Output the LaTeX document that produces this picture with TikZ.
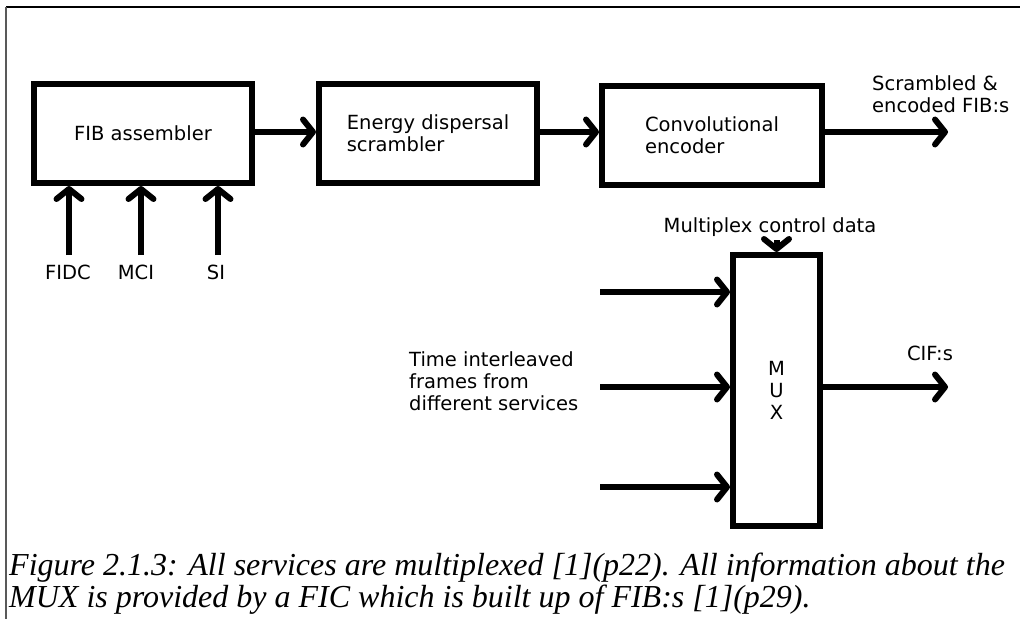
\documentclass[tikz,border=0pt]{standalone}
\usepackage{fontspec}
\usetikzlibrary{arrows.meta}
\newfontfamily\labelfont{DejaVu Sans}
\newfontfamily\captionfont{Liberation Serif}
\begin{document}
\begin{tikzpicture}[x=1pt,y=-1pt,
  txt/.style={font=\labelfont\fontsize{19.5}{22}\selectfont},
  block/.style={txt, draw, line width=6pt, inner sep=0pt, align=left},
  lbl/.style={txt, inner sep=0pt, align=left},
  arr/.style={line width=6pt, -{Straight Barb[length=10pt,width=25pt,round]}},
]
\useasboundingbox (0,0) rectangle (1020,619);
% page frame
\draw[black, line width=1.5pt] (6,7) -- (1020,7);
\draw[gray!70!black, line width=2pt] (6,7) -- (6,619);

% FIC chain
\node[block, minimum width=218pt, minimum height=99pt] (fib) at (143,133.5) {FIB assembler};
\node[block, minimum width=218pt, minimum height=99pt] (eds) at (428,133.5) {Energy dispersal\\scrambler};
\node[block, minimum width=220pt, minimum height=99pt] (conv) at (712,135) {Convolutional\\encoder};
\coordinate (chain) at (0,132);
\draw[arr] (fib.east |- chain) -- (eds.west |- chain);
\draw[arr] (eds.east |- chain) -- (conv.west |- chain);
\coordinate (fibOut) at (948,132);
\draw[arr] (conv.east |- fibOut) -- (fibOut);
% base of a multi-line node is the baseline of its last line
\node[lbl, anchor=base west] (fibLbl) at (872,112) {Scrambled \&\\encoded FIB:s};

% inputs of the FIB assembler
\coordinate (fidcIn) at (69,255);
\coordinate (mciIn) at (141,255);
\coordinate (siIn) at (218,255);
\draw[arr] (fidcIn) -- (fidcIn |- fib.south);
\draw[arr] (mciIn) -- (mciIn |- fib.south);
\draw[arr] (siIn) -- (siIn |- fib.south);
\node[lbl, anchor=base] (fidc) at (68,279) {FIDC};
\node[lbl, anchor=base] (mci) at (136,279) {MCI};
\node[lbl, anchor=base] (si) at (216,279) {SI};

% multiplexer
\node[block, minimum width=87pt, minimum height=271pt, align=center] (mux) at (776.5,390.5) {M\\U\\X};
\node[lbl, anchor=base] (mcd) at (770,232) {Multiplex control data};
\coordinate (ctl) at (776.5,240);
\draw[arr] (ctl) -- (mux.north);
\coordinate (in1) at (600,292);
\coordinate (in2) at (600,387);
\coordinate (in3) at (600,487);
\draw[arr] (in1) -- (in1 -| mux.west);
\draw[arr] (in2) -- (in2 -| mux.west);
\draw[arr] (in3) -- (in3 -| mux.west);
\node[lbl, anchor=base west] (tif) at (409,410) {Time interleaved\\frames from\\different services};
\coordinate (cifOut) at (948,387);
\draw[arr] (mux.east |- cifOut) -- (cifOut);
\node[lbl, anchor=base] (cif) at (930,360) {CIF:s};

% caption
\node[anchor=base west, inner sep=0pt, align=left,
      font=\captionfont\itshape\fontsize{32}{32}\selectfont] (caption) at (9,607)
  {Figure 2.1.3: All services are multiplexed [1](p22). All information about the\\
   MUX is provided by a FIC which is built up of FIB:s [1](p29).};
\end{tikzpicture}
\end{document}
